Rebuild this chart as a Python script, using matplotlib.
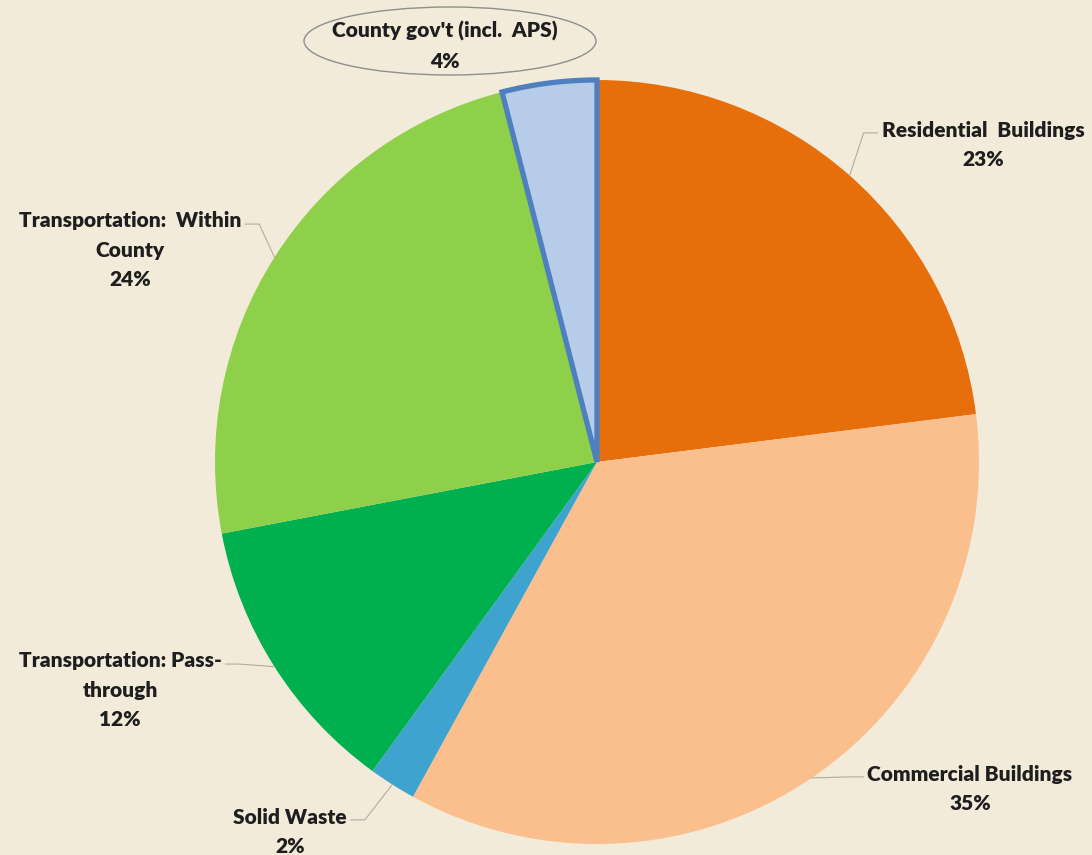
import numpy as np
import matplotlib.pyplot as plt
from matplotlib.patches import Ellipse

# Emission shares by sector, clockwise from 12 o'clock
sectors = ["Residential  Buildings", "Commercial Buildings", "Solid Waste",
           "Transportation: Pass-\nthrough", "Transportation:  Within\nCounty",
           "County gov't (incl.  APS)"]
shares = [23, 35, 2, 12, 24, 4]
colors = ["#E66F0C", "#FBBF8D", "#3FA3CF", "#00B04E", "#8FD04A", "#B7CCE8"]

# label anchor (centre of text block) and side of the leader line, in px
label_pos = [(983, 145), (970, 789), (290, 832), (120, 690), (130, 250), (445, 46)]
label_side = ["left", "left", "right", "right", "right", None]

W, H = 1092, 855
bg = "#F3EBDA"
fig = plt.figure(figsize=(W / 100, H / 100), dpi=100, facecolor=bg)
ax = fig.add_axes([0, 0, 1, 1])
ax.set_facecolor(bg)

cx, cy, R = 597, H - 462, 382
explode = [0, 0, 0, 0, 0, 0.03]
wedges, _ = ax.pie(shares, colors=colors, startangle=90, counterclock=False,
                   center=(cx, cy), radius=R, explode=explode,
                   wedgeprops=dict(linewidth=0))
wedges[-1].set_edgecolor("#4F7FBF")
wedges[-1].set_linewidth(3.8)
wedges[-1].set_zorder(3)

ax.set_xlim(0, W)
ax.set_ylim(0, H)
ax.set_aspect("auto")
ax.axis("off")

font = dict(family=["Lato", "DejaVu Sans"], fontsize=15, fontweight="heavy",
            color="#1E1E1E", ha="center", va="center", linespacing=1.65)

fig.canvas.draw()
for w, name, val, (lx, ly), side in zip(wedges, sectors, shares, label_pos, label_side):
    ly = H - ly
    txt = ax.text(lx, ly, f"{name}\n{val}%", **font)
    if side is None:
        continue
    mid = np.deg2rad((w.theta1 + w.theta2) / 2)
    ex, ey = cx + R * np.cos(mid), cy + R * np.sin(mid)
    fig.canvas.draw()
    bb = txt.get_window_extent().transformed(ax.transData.inverted())
    # leader starts beside the first text line
    first_y = bb.y1 - (bb.y1 - bb.y0) / (name.count("\n") + 2) / 2
    sx = bb.x0 - 4 if side == "left" else bb.x1 + 4
    kx = sx - 14 if side == "left" else sx + 14
    ax.plot([sx, kx, ex], [first_y, first_y, ey], color="#B3AC9F", lw=0.8, zorder=1)

# ellipse callout around the county label
ax.add_patch(Ellipse((450, H - 41), 292, 68, facecolor="none",
                     edgecolor="#8E8E8E", lw=1.0))

fig.savefig("out.png", dpi=100, facecolor=bg)
